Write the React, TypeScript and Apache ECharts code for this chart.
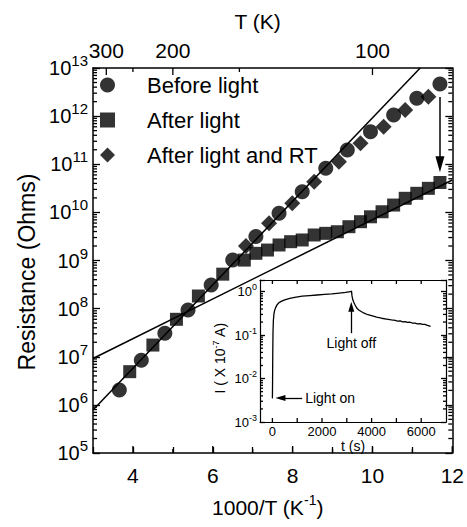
import React, { useEffect, useRef } from 'react';
import * as echarts from 'echarts';

const FONT = '"Liberation Sans", Arial, Helvetica, sans-serif';

// ---- Main chart data (x = 1000/T in K^-1, y = resistance in Ohms) ----
const beforeLightX = [3.66, 4.21, 4.80, 5.38, 5.96, 6.50, 7.08, 7.66, 8.24, 8.83, 9.37, 9.95, 10.53, 11.11, 11.69];
const beforeLightR = [2.04e6, 8.5e6, 3.07e7, 9.35e7, 3.1e8, 1.02e9, 3.15e9, 9.6e9, 2.69e10, 8.25e10, 1.98e11, 4.75e11, 1.05e12, 2.35e12, 4.66e12];

const afterLightX = [3.92, 4.50, 5.09, 5.64, 6.25, 6.79, 7.08, 7.37, 7.66, 7.95, 8.24, 8.54, 8.83, 9.12, 9.41, 9.70, 9.95, 10.24, 10.53, 10.82, 11.11, 11.40, 11.69];
const afterLightR = [4.9e6, 1.75e7, 6.0e7, 1.83e8, 5.2e8, 1.02e9, 1.41e9, 1.65e9, 2.1e9, 2.46e9, 2.67e9, 3.39e9, 3.67e9, 3.96e9, 5.04e9, 6.4e9, 8.1e9, 1.03e10, 1.42e10, 1.96e10, 2.49e10, 3.16e10, 4.18e10];

const afterRTX = [6.83, 7.41, 7.99, 8.54, 9.16, 9.70, 10.28, 10.82, 11.40];
const afterRTR = [2.0e9, 5.93e9, 1.55e10, 4.34e10, 1.13e11, 2.72e11, 6.03e11, 1.34e12, 2.54e12];

const fitSteepX = [3, 11.195];
const fitSteepR = [7.83e5, 1e13];
const fitShallowX = [3, 12];
const fitShallowR = [9.2e6, 4.71e10];

const arrowX = 11.69;
const arrowR = [2.5e12, 1.0e11];

// ---- Inset data (t in s, I in 1e-7 A) ----
const insetT = [0, 8, 15, 25, 40, 60, 90, 130, 180, 250, 350, 500, 700, 900, 1200, 1500, 1800, 2100, 2400, 2700, 2950, 3150, 3190, 3210, 3240, 3280, 3330, 3400, 3480, 3580, 3700, 3850, 4000, 4200, 4400, 4600, 4800, 4950, 5050, 5150, 5250, 5350, 5450, 5550, 5650, 5750, 5850, 5950, 6050, 6150, 6250, 6380];
const insetI = [0.0035, 0.01, 0.04, 0.12, 0.22, 0.3, 0.37, 0.43, 0.49, 0.55, 0.6, 0.65, 0.70, 0.74, 0.79, 0.815, 0.84, 0.865, 0.89, 0.93, 0.96, 1.0, 1.03, 0.8, 0.66, 0.57, 0.5, 0.42, 0.38, 0.35, 0.32, 0.295, 0.28, 0.26, 0.245, 0.235, 0.225, 0.218, 0.211, 0.213, 0.203, 0.205, 0.196, 0.198, 0.189, 0.19, 0.182, 0.184, 0.176, 0.177, 0.168, 0.16];

const lightOffT = 3180;
const lightOffI = [0.111, 0.45];
const lightOnT = [1200, 323];
const lightOnI = 0.00356;

// ---- Axis ranges & ticks ----
const mainX = [3, 12];
const mainY = [1e5, 1e13];
const insetX = [-500, 7000];
const insetY = [1e-3, 1.86];

const mainXMajor = [4, 6, 8, 10, 12];
const mainXMinor = [5, 7, 9, 11];
const topTMajor = [300, 200, 100];
const topTMinor = [250, 150];
const mainYMajor = [1e5, 1e6, 1e7, 1e8, 1e9, 1e10, 1e11, 1e12, 1e13];
const insetXLabels = [0, 2000, 4000, 6000];
const insetXTicks = [0, 1000, 2000, 3000, 4000, 5000, 6000];
const insetYMajor = [1e-3, 1e-2, 1e-1, 1];

const minorLog = (lo: number, hi: number) => {
  const out: number[] = [];
  for (let e = lo; e < hi; e++) for (let m = 2; m <= 9; m++) out.push(m * Math.pow(10, e));
  return out;
};
const mainYMinor = minorLog(5, 13);
const insetYMinor = minorLog(-3, 1).filter((v) => v <= insetY[1]);

const zip = (xs: number[], ys: number[]) => xs.map((x, i) => [x, ys[i]]);

const expLabel = (v: number) => {
  const e = Math.round(Math.log10(v));
  return `{b|10}{s|${e}}`;
};

const line = { color: '#000', width: 1.5 };
const thin = { color: '#000', width: 1.2 };
const stdTick = (len: number) => ({ show: true, inside: true, length: len, lineStyle: { color: '#000', width: 1.3 } });

type TickSpec = [number, number]; // [value, length in px]

export default function App() {
  const ref = useRef<HTMLDivElement>(null);
  useEffect(() => {
    const chart = echarts.init(ref.current!, null, { renderer: 'svg' });

    const option: any = {
      animation: false,
      backgroundColor: '#fff',
      textStyle: { fontFamily: FONT, color: '#000' },
      grid: [
        { left: 93, top: 68, width: 361, height: 385 },
        { left: 260, top: 280, width: 186, height: 142, show: true, backgroundColor: '#fff', borderWidth: 0 },
      ],
      legend: {
        data: ['Before light', 'After light', 'After light and RT'],
        orient: 'vertical',
        left: 95,
        top: 69,
        itemWidth: 15,
        itemHeight: 15,
        itemGap: 13,
        selectedMode: false,
        textStyle: { fontSize: 22, lineHeight: 22, color: '#000', fontFamily: FONT, padding: [0, 0, 0, 27] },
      },
      xAxis: [
        {
          type: 'value', gridIndex: 0, position: 'bottom', min: mainX[0], max: mainX[1], interval: 1,
          splitLine: { show: false }, axisTick: stdTick(6),
          axisLine: { show: true, onZero: false, lineStyle: line },
          axisLabel: { show: true, customValues: mainXMajor, fontSize: 21, margin: 12, color: '#000', fontFamily: FONT },
          name: '1000/T (K{s|-1})',
          nameLocation: 'middle',
          nameGap: 40,
          nameTextStyle: {
            fontSize: 21, color: '#000', fontFamily: FONT, lineHeight: 28, padding: [0, 10, 0, 0],
            rich: { s: { fontSize: 14, lineHeight: 14, verticalAlign: 'top', fontFamily: FONT } },
          },
        },
        {
          type: 'value', gridIndex: 0, position: 'top', min: mainX[0], max: mainX[1],
          splitLine: { show: false }, axisTick: { show: false },
          axisLine: { show: true, onZero: false, lineStyle: line },
          axisLabel: {
            show: true, customValues: topTMajor.map((t) => 1000 / t), fontSize: 21, margin: 7, color: '#000', fontFamily: FONT,
            formatter: (v: number) => String(Math.round(1000 / v)),
          },
          name: 'T (K)',
          nameLocation: 'middle',
          nameGap: 36,
          nameTextStyle: { fontSize: 21, color: '#000', fontFamily: FONT, padding: [0, 30, 0, 0] },
        },
        {
          type: 'value', gridIndex: 1, position: 'bottom', min: insetX[0], max: insetX[1],
          splitLine: { show: false }, axisTick: { show: false },
          axisLine: { show: true, onZero: false, lineStyle: thin },
          axisLabel: {
            show: true, customValues: insetXLabels, fontSize: 13, margin: 3, color: '#000', fontFamily: FONT,
            formatter: (v: number) => String(v),
          },
          name: 't (s)',
          nameLocation: 'middle',
          nameGap: 17,
          nameTextStyle: { fontSize: 14, color: '#000', fontFamily: FONT },
        },
        {
          type: 'value', gridIndex: 1, position: 'top', min: insetX[0], max: insetX[1],
          splitLine: { show: false }, axisTick: { show: false }, axisLabel: { show: false },
          axisLine: { show: true, onZero: false, lineStyle: thin },
        },
      ],
      yAxis: [
        {
          type: 'log', logBase: 10, gridIndex: 0, position: 'left', min: mainY[0], max: mainY[1], interval: 1,
          splitLine: { show: false }, axisTick: stdTick(7),
          axisLine: { show: true, onZero: false, lineStyle: line },
          axisLabel: {
            show: true, customValues: mainYMajor, margin: 5, formatter: expLabel,
            rich: {
              b: { fontSize: 20, lineHeight: 30, color: '#000', fontFamily: FONT },
              s: { fontSize: 15, lineHeight: 16, verticalAlign: 'top', color: '#000', fontFamily: FONT },
            },
          },
          name: 'Resistance (Ohms)',
          nameLocation: 'middle',
          nameGap: 53,
          nameTextStyle: { fontSize: 23, color: '#000', fontFamily: FONT, padding: [0, 23, 0, 0] },
        },
        {
          type: 'log', logBase: 10, gridIndex: 0, position: 'right', min: mainY[0], max: mainY[1], interval: 1,
          splitLine: { show: false }, axisTick: stdTick(7), axisLabel: { show: false },
          axisLine: { show: true, onZero: false, lineStyle: line },
        },
        {
          type: 'log', logBase: 10, gridIndex: 1, position: 'left', min: insetY[0], max: insetY[1], interval: 1,
          splitLine: { show: false }, axisTick: stdTick(5),
          axisLine: { show: true, onZero: false, lineStyle: thin },
          axisLabel: {
            show: true, customValues: insetYMajor, margin: 3, formatter: expLabel,
            rich: {
              b: { fontSize: 13, lineHeight: 18, color: '#000', fontFamily: FONT },
              s: { fontSize: 9, lineHeight: 10, verticalAlign: 'top', color: '#000', fontFamily: FONT },
            },
          },
          name: 'I ( X 10{s|-7} A)',
          nameLocation: 'middle',
          nameGap: 31,
          nameTextStyle: {
            fontSize: 14, lineHeight: 18, color: '#000', fontFamily: FONT, padding: [0, 14, 0, 0],
            rich: { s: { fontSize: 9, lineHeight: 10, verticalAlign: 'top', fontFamily: FONT } },
          },
        },
        {
          type: 'log', logBase: 10, gridIndex: 1, position: 'right', min: insetY[0], max: insetY[1], interval: 1,
          splitLine: { show: false }, axisTick: stdTick(5), axisLabel: { show: false },
          axisLine: { show: true, onZero: false, lineStyle: thin },
        },
      ],
      series: [
        {
          name: 'fit steep', type: 'line', xAxisIndex: 0, yAxisIndex: 0, data: zip(fitSteepX, fitSteepR),
          showSymbol: false, symbol: 'none', lineStyle: { color: '#000', width: 1.5 }, z: 2, silent: true,
        },
        {
          name: 'fit shallow', type: 'line', xAxisIndex: 0, yAxisIndex: 0, data: zip(fitShallowX, fitShallowR),
          showSymbol: false, symbol: 'none', lineStyle: { color: '#000', width: 1.5 }, z: 2, silent: true,
          markLine: {
            silent: true, symbol: ['none', 'triangle'], symbolSize: [9, 16],
            lineStyle: { color: '#000', width: 1.5, type: 'solid' }, label: { show: false },
            data: [[{ coord: [arrowX, arrowR[0]] }, { coord: [arrowX, arrowR[1]] }]],
          },
        },
        {
          name: 'Before light', type: 'scatter', xAxisIndex: 0, yAxisIndex: 0, data: zip(beforeLightX, beforeLightR),
          symbol: 'circle', symbolSize: 15, itemStyle: { color: '#000' }, z: 4,
        },
        {
          name: 'After light', type: 'scatter', xAxisIndex: 0, yAxisIndex: 0, data: zip(afterLightX, afterLightR),
          symbol: 'rect', symbolSize: 13, itemStyle: { color: '#000' }, z: 4,
        },
        {
          name: 'After light and RT', type: 'scatter', xAxisIndex: 0, yAxisIndex: 0, data: zip(afterRTX, afterRTR),
          symbol: 'diamond', symbolSize: 16, itemStyle: { color: '#000' }, z: 4,
        },
        {
          name: 'photocurrent', type: 'line', xAxisIndex: 2, yAxisIndex: 2, data: zip(insetT, insetI),
          showSymbol: false, symbol: 'none', lineStyle: { color: '#000', width: 1.3 }, z: 5, silent: true,
          markLine: {
            silent: true, symbol: ['none', 'triangle'], symbolSize: [6, 10],
            lineStyle: { color: '#000', width: 1.3, type: 'solid' },
            label: { show: true, position: 'start', distance: 3, fontSize: 14, color: '#000', fontFamily: FONT },
            data: [
              [{ coord: [lightOffT, lightOffI[0]], name: 'Light off' }, { coord: [lightOffT, lightOffI[1]] }],
              [{ coord: [lightOnT[0], lightOnI], name: 'Light on' }, { coord: [lightOnT[1], lightOnI] }],
            ],
          },
        },
      ],
    };
    chart.setOption(option);

    // Extra frame ticks (minor log ticks, temperature ticks, inset time ticks), placed through the library's scales
    try {
      const els: any[] = [];
      const seg = (a: number[], b: number[]) => {
        if ([a[0], a[1], b[0], b[1]].some((n) => !isFinite(n))) return;
        els.push({
          type: 'line', silent: true, z: 100,
          shape: { x1: a[0], y1: a[1], x2: b[0], y2: b[1] },
          style: { stroke: '#000', lineWidth: 1.3 },
        });
      };
      const addGrid = (gi: number, xr: number[], yr: number[], yT: TickSpec[], xB: TickSpec[], xT: TickSpec[]) => {
        const px = (x: number, y: number) => chart.convertToPixel({ gridIndex: gi } as any, [x, y]) as unknown as number[];
        yT.forEach(([v, len]) => {
          const p = px(xr[0], v);
          const q = px(xr[1], v);
          if (p) seg(p, [p[0] + len, p[1]]);
          if (q) seg(q, [q[0] - len, q[1]]);
        });
        xB.forEach(([v, len]) => {
          const p = px(v, yr[0]);
          if (p) seg(p, [p[0], p[1] - len]);
        });
        xT.forEach(([v, len]) => {
          const p = px(v, yr[1]);
          if (p) seg(p, [p[0], p[1] + len]);
        });
      };
      addGrid(
        0, mainX, mainY,
        mainYMinor.map((v) => [v, 4] as TickSpec),
        [...mainXMajor.map((v) => [v, 7] as TickSpec), ...mainXMinor.map((v) => [v, 4] as TickSpec)],
        [...topTMajor.map((t) => [1000 / t, 7] as TickSpec), ...topTMinor.map((t) => [1000 / t, 4] as TickSpec)],
      );
      addGrid(
        1, insetX, insetY,
        insetYMinor.map((v) => [v, 3] as TickSpec),
        insetXTicks.map((v) => [v, 4] as TickSpec),
        insetXTicks.map((v) => [v, 4] as TickSpec),
      );
      if (els.length) chart.setOption({ graphic: [{ type: 'group', silent: true, z: 100, children: els }] });
    } catch (e) {
      // keep the chart without the extra ticks
    }

    return () => chart.dispose();
  }, []);
  return (
    <div
      ref={ref}
      style={{ position: 'fixed', left: 0, top: 0, width: 467, height: 527, background: '#fff' }}
    />
  );
}
